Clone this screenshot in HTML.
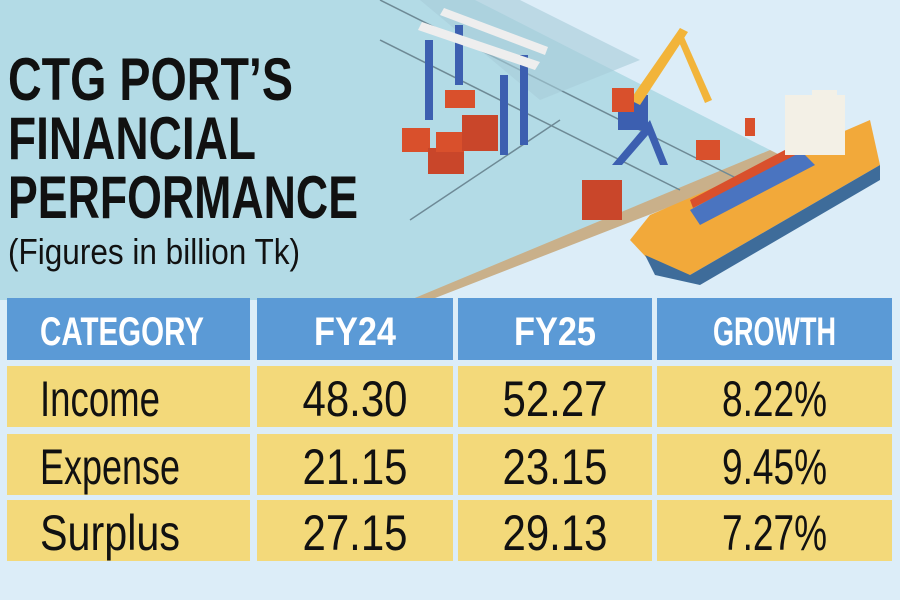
<!DOCTYPE html>
<html><head><meta charset="utf-8"><style>
html,body{margin:0;padding:0;width:900px;height:600px;overflow:hidden;background:#dcedf8}
svg{display:block}
</style></head><body>
<svg id="chart" width="900" height="600" viewBox="0 0 900 600" xmlns="http://www.w3.org/2000/svg" font-family="'Liberation Sans', sans-serif">
<rect width="900" height="600" fill="#dcedf8"/>
<g>
  <polygon points="300,0 475,0 770,150 420,300 0,300 0,0" fill="#b3dbe6"/>
  <polygon points="770,150 790,160 430,300 410,300" fill="#c9b08a"/>
  <line x1="380" y1="0" x2="740" y2="180" stroke="#6e8a96" stroke-width="1.5"/>
  <line x1="380" y1="40" x2="680" y2="190" stroke="#6e8a96" stroke-width="1.5"/>
  <line x1="560" y1="120" x2="410" y2="220" stroke="#6e8a96" stroke-width="1.5"/>
  <polygon points="420,0 520,0 640,60 540,100" fill="#a6ccd8" opacity="0.6"/>
  <rect x="425" y="40" width="8" height="80" fill="#3c5fb0"/>
  <rect x="500" y="75" width="8" height="80" fill="#3c5fb0"/>
  <rect x="520" y="55" width="8" height="90" fill="#3c5fb0"/>
  <rect x="455" y="25" width="8" height="60" fill="#3c5fb0"/>
  <polygon points="418,30 535,70 540,62 422,22" fill="#eeeeee"/>
  <polygon points="440,15 545,55 548,47 444,8" fill="#eeeeee"/>
  <rect x="445" y="90" width="30" height="18" fill="#d9502c"/>
  <rect x="402" y="128" width="28" height="24" fill="#d9502c"/>
  <rect x="428" y="148" width="36" height="26" fill="#c9462a"/>
  <rect x="436" y="132" width="28" height="20" fill="#d9502c"/>
  <rect x="462" y="115" width="36" height="36" fill="#c9462a"/>
  <rect x="582" y="180" width="40" height="40" fill="#c9462a"/>
  <polygon points="612,165 650,120 668,165 660,165 648,135 622,165" fill="#3c5fb0"/>
  <rect x="618" y="95" width="30" height="35" fill="#3c5fb0"/>
  <polygon points="630,100 680,28 688,32 640,105" fill="#f2b43a"/>
  <polygon points="680,28 712,100 705,103 676,35" fill="#f2b43a"/>
  <rect x="612" y="88" width="22" height="24" fill="#d9502c"/>
  <rect x="696" y="140" width="24" height="20" fill="#d9502c"/>
  <rect x="745" y="118" width="10" height="18" fill="#d9502c"/>
  <polygon points="630,240 650,215 870,120 880,165 690,275 660,272" fill="#f2a93a"/>
  <polygon points="645,255 690,275 880,165 880,180 700,285 655,275" fill="#3e6c9a"/>
  <polygon points="690,210 800,150 815,165 700,225" fill="#4a74c0"/>
  <polygon points="690,200 800,142 805,150 693,208" fill="#d9502c"/>
  <rect x="785" y="95" width="60" height="60" fill="#f3f0e6"/>
  <rect x="812" y="90" width="25" height="18" fill="#f3f0e6"/>
</g>
<g font-weight="bold" fill="#111">
  <text x="8" y="100" font-size="60" textLength="285" lengthAdjust="spacingAndGlyphs">CTG PORT’S</text>
  <text x="8" y="159" font-size="60" textLength="248" lengthAdjust="spacingAndGlyphs">FINANCIAL</text>
  <text x="8" y="218" font-size="60" textLength="350" lengthAdjust="spacingAndGlyphs">PERFORMANCE</text>
  <text x="8" y="264" font-size="36" font-weight="normal" textLength="292" lengthAdjust="spacingAndGlyphs">(Figures in billion Tk)</text>
</g>
<g id="table"></g>
</svg>
<script>
const headers = ["CATEGORY", "FY24", "FY25", "GROWTH"];
const categories = ["Income", "Expense", "Surplus"];
const fy24 = ["48.30", "21.15", "27.15"];
const fy25 = ["52.27", "23.15", "29.13"];
const growth = ["8.22%", "9.45%", "7.27%"];

const NS = "http://www.w3.org/2000/svg";
const tbl = document.getElementById("table");
const colX = [7, 257, 458, 657];
const colW = [243, 196, 194, 235];
const headY = 298, headH = 62;
const rowY = [366, 434, 500], rowH = 61;

function mk(tag, attrs, parent) {
  const e = document.createElementNS(NS, tag);
  for (const k in attrs) e.setAttribute(k, attrs[k]);
  parent.appendChild(e);
  return e;
}

headers.forEach((h, i) => {
  const r = mk("rect", {x: colX[i], y: headY, width: colW[i], height: headH, fill: "#5b9ad6"}, tbl);
  
  
  const tx = i === 0 ? 40 : colX[i] + colW[i] / 2;
  const t = mk("text", {x: tx, y: headY + 47, "font-size": "40", "font-weight": "bold", fill: "#fff",
    "text-anchor": i === 0 ? "start" : "middle", textLength: h.length * 20.5, lengthAdjust: "spacingAndGlyphs"}, tbl);
  t.textContent = h;
  
  
});

categories.forEach((c, r) => {
  const vals = [c, fy24[r], fy25[r], growth[r]];
  vals.forEach((v, i) => {
    const cell = mk("rect", {x: colX[i], y: rowY[r], width: colW[i], height: rowH, fill: "#f3d97a"}, tbl);
    
    
    const tx = i === 0 ? 40 : colX[i] + colW[i] / 2;
    const w = i === 0 ? v.length * 20 : v.length * 21;
    const t = mk("text", {x: tx, y: rowY[r] + 50, "font-size": "50", fill: "#111",
      "text-anchor": i === 0 ? "start" : "middle", textLength: w, lengthAdjust: "spacingAndGlyphs"}, tbl);
    t.textContent = v;
    
    
  });
});
</script>
</body></html>
